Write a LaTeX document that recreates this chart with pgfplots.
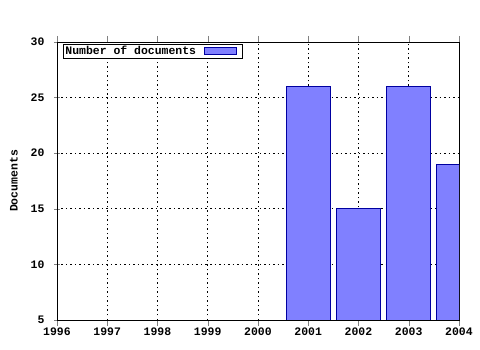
\documentclass[border=0pt]{standalone}
\usepackage{fontspec}
\setmainfont{Liberation Mono}
\usepackage{pgfplots}
\pgfplotsset{compat=1.18}
\definecolor{barfill}{HTML}{8080FF}
\definecolor{baredge}{HTML}{0000A0}
\begin{document}
\begin{tikzpicture}[font=\fontsize{11.5}{13}\selectfont\bfseries]
\path[use as bounding box] (-57bp,-30bp) rectangle (423bp,320bp);
\begin{axis}[
  at={(0,0)}, anchor=south west,
  scale only axis, width=402bp, height=278bp,
  xmin=1996, xmax=2004, ymin=5, ymax=30,
  xtick={1996,...,2004}, ytick={5,10,...,30},
  minor x tick num=3,
  xtick pos=both, ytick pos=left,
  tick align=center,
  major tick length=6bp, minor tick length=4bp,
  grid=major,
  major grid style={black, dash pattern=on 1.5bp off 3bp, line width=0.8pt},
  axis line style={black, line width=0.9pt},
  /pgf/number format/assume math mode=true,
  /pgf/number format/1000 sep={},
  ticklabel style={font=\fontsize{11.5}{13}\selectfont\bfseries},
  yticklabel style={xshift=-6bp},
  xticklabel style={yshift=2bp},
  ylabel={Documents},
  ylabel style={font=\fontsize{11.5}{13}\selectfont\bfseries, at={(axis description cs:-0.107,0.5)}, anchor=center},
  ybar, bar width=0.88,
  legend style={at={(axis description cs:0.015,0.993)}, anchor=north west,
    draw=black, line width=0.9pt, inner sep=1pt, row sep=0pt,
    font=\fontsize{11.5}{12}\selectfont\bfseries,
    nodes={inner sep=1pt}},
  legend plot pos=right,
  legend image code/.code={\path[draw=none,fill=none] (0bp,0bp) -- (44bp,0bp);\draw[#1, line width=0.8pt] (7bp,-3.5bp) rectangle (39bp,3.5bp);},
]
\addplot[fill=barfill, draw=baredge, line width=0.8pt] coordinates {
  (2001,26) (2002,15) (2003,26) (2004,19)
};
\addlegendentry{Number of documents}
\end{axis}
\end{tikzpicture}
\end{document}
